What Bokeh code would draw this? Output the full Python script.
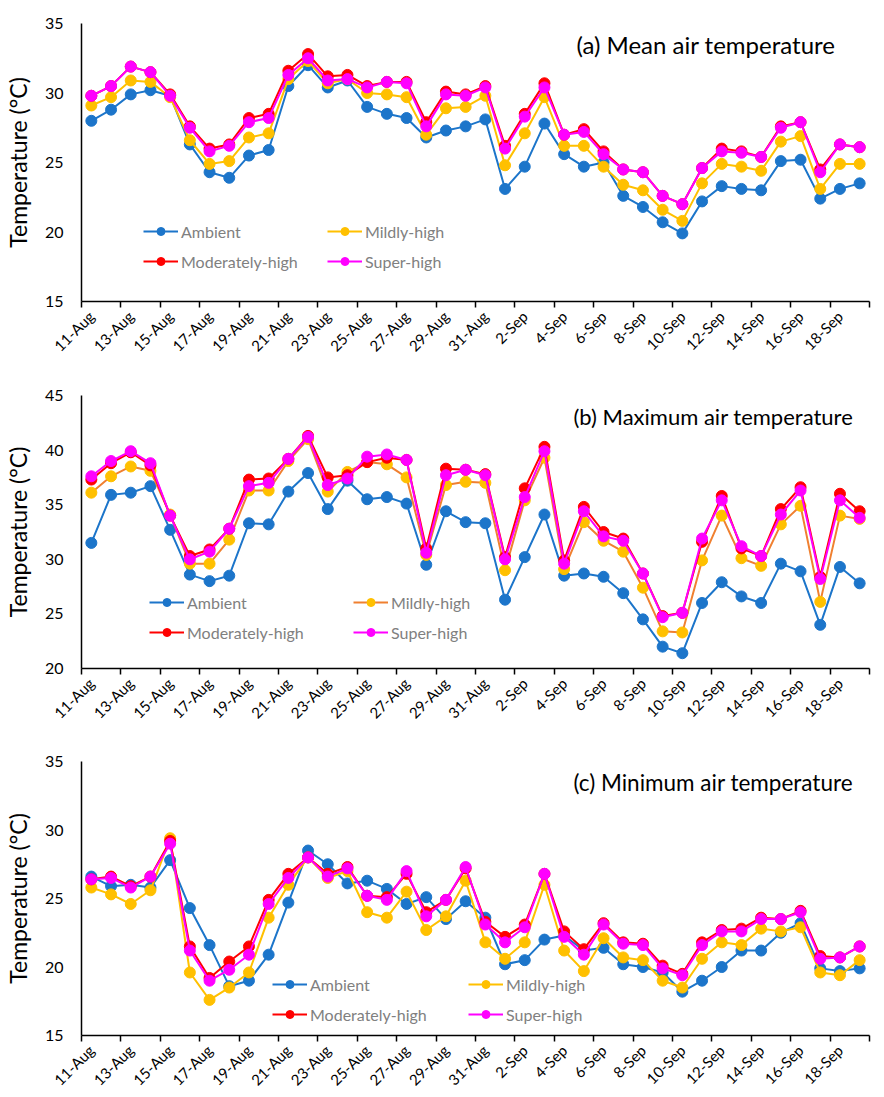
import math
from bokeh.plotting import figure
from bokeh.models import FixedTicker, Legend, LegendItem, Label, Range1d
from bokeh.layouts import column
from bokeh.embed import file_html
from bokeh.resources import INLINE

# ---------------- data ----------------
dates = ["11-Aug", "12-Aug", "13-Aug", "14-Aug", "15-Aug", "16-Aug", "17-Aug", "18-Aug",
         "19-Aug", "20-Aug", "21-Aug", "22-Aug", "23-Aug", "24-Aug", "25-Aug", "26-Aug",
         "27-Aug", "28-Aug", "29-Aug", "30-Aug", "31-Aug", "1-Sep", "2-Sep", "3-Sep",
         "4-Sep", "5-Sep", "6-Sep", "7-Sep", "8-Sep", "9-Sep", "10-Sep", "11-Sep",
         "12-Sep", "13-Sep", "14-Sep", "15-Sep", "16-Sep", "17-Sep", "18-Sep", "19-Sep"]

series_names = ["Ambient", "Mildly-high", "Moderately-high", "Super-high"]

amb_mean = [28.0, 28.8, 29.9, 30.2, 29.8, 26.3, 24.3, 23.9, 25.5, 25.9, 30.5, 32.0, 30.4, 30.9,
            29.0, 28.5, 28.2, 26.8, 27.3, 27.6, 28.1, 23.1, 24.7, 27.8, 25.6, 24.7, 25.0, 22.6,
            21.8, 20.7, 19.9, 22.2, 23.3, 23.1, 23.0, 25.1, 25.2, 22.4, 23.1, 23.5]
mild_mean = [29.1, 29.7, 30.9, 30.8, 29.7, 26.6, 24.9, 25.1, 26.8, 27.1, 31.0, 32.3, 30.7, 31.0,
             30.0, 29.9, 29.7, 27.0, 28.9, 29.0, 29.8, 24.8, 27.1, 29.7, 26.2, 26.2, 24.7, 23.4,
             23.0, 21.6, 20.8, 23.5, 24.9, 24.7, 24.4, 26.5, 26.9, 23.1, 24.9, 24.9]
mod_mean = [29.8, 30.5, 31.9, 31.5, 29.9, 27.6, 26.0, 26.3, 28.2, 28.5, 31.6, 32.8, 31.2, 31.3,
            30.5, 30.8, 30.8, 27.9, 30.1, 29.9, 30.5, 26.2, 28.5, 30.7, 27.0, 27.4, 25.8, 24.5,
            24.3, 22.6, 22.0, 24.6, 26.0, 25.8, 25.4, 27.6, 27.9, 24.5, 26.3, 26.1]
sup_mean = [29.8, 30.5, 31.9, 31.5, 29.8, 27.5, 25.8, 26.2, 27.9, 28.2, 31.3, 32.5, 30.9, 31.0,
            30.4, 30.8, 30.7, 27.6, 29.9, 29.8, 30.4, 26.0, 28.3, 30.4, 27.0, 27.2, 25.6, 24.5,
            24.3, 22.6, 22.0, 24.6, 25.8, 25.7, 25.4, 27.5, 27.9, 24.3, 26.3, 26.1]

amb_max = [31.5, 35.9, 36.1, 36.7, 32.7, 28.6, 28.0, 28.5, 33.3, 33.2, 36.2, 37.9, 34.6, 37.2,
           35.5, 35.7, 35.1, 29.5, 34.4, 33.4, 33.3, 26.3, 30.2, 34.1, 28.5, 28.7, 28.4, 26.9,
           24.5, 22.0, 21.4, 26.0, 27.9, 26.6, 26.0, 29.6, 28.9, 24.0, 29.3, 27.8]
mild_max = [36.1, 37.6, 38.5, 38.1, 34.1, 29.6, 29.6, 31.8, 36.3, 36.3, 39.0, 41.0, 36.2, 38.0,
            38.9, 38.7, 37.5, 30.4, 36.8, 37.1, 37.0, 29.0, 35.4, 39.3, 29.1, 33.4, 31.7, 30.7,
            27.4, 23.4, 23.3, 29.9, 34.0, 30.1, 29.4, 33.2, 34.9, 26.1, 34.0, 33.7]
mod_max = [37.3, 38.8, 39.8, 38.6, 34.0, 30.3, 30.9, 32.8, 37.3, 37.4, 39.2, 41.3, 37.5, 37.7,
           38.9, 39.3, 39.1, 31.0, 38.3, 38.2, 37.8, 30.2, 36.5, 40.3, 29.9, 34.8, 32.5, 31.9,
           28.7, 24.8, 25.1, 31.6, 35.8, 31.0, 30.3, 34.6, 36.6, 28.4, 36.0, 34.4]
sup_max = [37.6, 39.0, 39.9, 38.8, 34.0, 30.0, 30.7, 32.8, 36.7, 37.0, 39.2, 41.2, 36.8, 37.4,
           39.4, 39.6, 39.1, 30.6, 37.7, 38.2, 37.7, 30.0, 35.7, 39.9, 29.6, 34.4, 32.1, 31.7,
           28.7, 24.7, 25.1, 31.9, 35.4, 31.2, 30.3, 34.1, 36.3, 28.2, 35.4, 33.8]

amb_min = [26.6, 25.9, 26.0, 25.8, 27.8, 24.3, 21.6, 18.6, 19.0, 20.9, 24.7, 28.5, 27.5, 26.1,
           26.3, 25.7, 24.6, 25.1, 23.5, 24.8, 23.6, 20.2, 20.5, 22.0, 22.3, 21.2, 21.4, 20.2,
           20.0, 19.6, 18.2, 19.0, 20.0, 21.2, 21.2, 22.5, 23.2, 19.9, 19.7, 19.9]
mild_min = [25.8, 25.3, 24.6, 25.6, 29.4, 19.6, 17.6, 18.5, 19.6, 23.6, 26.0, 28.0, 26.5, 27.0,
            24.0, 23.6, 25.5, 22.7, 23.7, 26.3, 21.8, 20.6, 21.8, 26.0, 21.2, 19.7, 22.1, 20.7,
            20.5, 19.0, 18.5, 20.6, 21.8, 21.6, 22.8, 22.6, 22.9, 19.6, 19.4, 20.5]
mod_min = [26.4, 26.6, 25.9, 26.6, 29.2, 21.5, 19.2, 20.4, 21.5, 24.9, 26.8, 28.0, 26.8, 27.3,
           25.2, 25.1, 26.8, 24.0, 24.9, 27.2, 23.3, 22.2, 23.1, 26.8, 22.6, 21.3, 23.2, 21.8,
           21.7, 20.1, 19.5, 21.8, 22.7, 22.8, 23.6, 23.5, 24.1, 20.8, 20.7, 21.5]
sup_min = [26.4, 26.5, 25.8, 26.6, 29.0, 21.2, 19.0, 19.8, 20.9, 24.6, 26.5, 28.0, 26.6, 27.2,
           25.2, 24.9, 27.0, 23.7, 24.9, 27.3, 23.1, 21.8, 22.9, 26.8, 22.2, 20.9, 23.1, 21.7,
           21.6, 19.9, 19.4, 21.6, 22.6, 22.6, 23.5, 23.5, 24.0, 20.6, 20.7, 21.5]

titles = ["(a) Mean air temperature", "(b) Maximum air temperature", "(c) Minimum air temperature"]
y_ranges = [(15, 35), (20, 45), (15, 35)]
y_ticks = [[15, 20, 25, 30, 35], [20, 25, 30, 35, 40, 45], [15, 20, 25, 30, 35]]

# ---------------- style ----------------
FONT = "Lato"
BLUE = "#1C75CA"
YELLOW = "#FFC000"
ORANGE = "#F08030"
RED = "#FF0000"
MAGENTA = "#FF00FF"

x = list(range(len(dates)))
FRAME_W = 788


def make_panel(title, data, yr, yt, mild_line, left, top, bottom, frame_h,
               leg_x, leg_y, leg_label_w, title_size):
    p = figure(frame_width=FRAME_W, frame_height=frame_h,
               min_border_left=left, min_border_right=2,
               min_border_top=top, min_border_bottom=bottom,
               x_range=Range1d(-0.5, len(dates) - 0.5), y_range=Range1d(*yr),
               output_backend="svg", toolbar_location=None)
    p.outline_line_color = None
    p.xgrid.grid_line_color = None
    p.ygrid.grid_line_color = None
    p.background_fill_color = "white"
    p.border_fill_color = "white"

    # x axis
    p.xaxis.ticker = FixedTicker(ticks=list(range(0, len(dates), 2)),
                                 minor_ticks=[i - 0.5 for i in range(0, len(dates) + 1, 2)])
    p.xaxis.major_label_overrides = {i: dates[i] for i in range(0, len(dates), 2)}
    p.xaxis.major_label_orientation = math.pi / 4
    p.xaxis.major_tick_out = 0
    p.xaxis.major_tick_in = 0
    p.xaxis.minor_tick_out = 6
    p.xaxis.minor_tick_in = 0
    p.xaxis.minor_tick_line_color = "black"
    p.xaxis.minor_tick_line_width = 1.5
    p.xaxis.axis_line_color = "black"
    p.xaxis.axis_line_width = 1.5
    p.xaxis.major_label_text_font = FONT
    p.xaxis.major_label_text_font_size = "15px"
    p.xaxis.major_label_text_color = "black"
    p.xaxis.major_label_standoff = 6

    # y axis
    p.yaxis.ticker = FixedTicker(ticks=yt)
    p.yaxis.major_tick_out = 0
    p.yaxis.major_tick_in = 0
    p.yaxis.minor_tick_line_color = None
    p.yaxis.axis_line_color = "black"
    p.yaxis.axis_line_width = 1.5
    p.yaxis.major_label_text_font = FONT
    p.yaxis.major_label_text_font_size = "16px"
    p.yaxis.major_label_text_color = "black"
    p.yaxis.major_label_standoff = 18
    p.yaxis.axis_label = "Temperature (°C)"
    p.yaxis.axis_label_text_font = FONT
    p.yaxis.axis_label_text_font_size = "23px"
    p.yaxis.axis_label_text_font_style = "normal"
    p.yaxis.axis_label_text_color = "black"
    p.yaxis.axis_label_standoff = 10

    colors = [BLUE, mild_line, RED, MAGENTA]
    fills = [BLUE, YELLOW, RED, MAGENTA]
    items = []
    for name, vals, lc, fc in zip(series_names, data, colors, fills):
        ln = p.line(x, vals, line_color=lc, line_width=2)
        sc = p.scatter(x, vals, size=11, fill_color=fc, line_color=fc, marker="circle")
        items.append(LegendItem(label=name, renderers=[ln, sc]))

    leg = Legend(items=items, orientation="horizontal", ncols=2,
                 location=(leg_x, leg_y), padding=0, margin=0,
                 border_line_color=None, background_fill_alpha=0,
                 label_text_color="#808080", label_text_font=FONT,
                 label_text_font_size="16px", glyph_width=35, glyph_height=20,
                 label_height=20, label_width=leg_label_w, label_standoff=3, spacing=10)
    p.add_layout(leg)

    p.add_layout(Label(x=578 - 8 - left, y=frame_h - 21, x_units="screen", y_units="screen",
                       text=title, text_font=FONT, text_font_size=title_size,
                       text_color="black", text_align="left", text_baseline="middle"))
    return p


p1 = make_panel(titles[0], [amb_mean, mild_mean, mod_mean, sup_mean], y_ranges[0], y_ticks[0],
                YELLOW, 75, 23, 75, 278, 62, 30, 136, "24px")
p2 = make_panel(titles[1], [amb_max, mild_max, mod_max, sup_max], y_ranges[1], y_ticks[1],
                ORANGE, 78, 19, 78, 273, 68, 26, 156, "22px")
p3 = make_panel(titles[2], [amb_min, mild_min, mod_min, sup_min], y_ranges[2], y_ticks[2],
                YELLOW, 78, 15, 48, 274, 191, 11, 148, "22.5px")

layout = column(p1, p2, p3, spacing=0)

open("out.html", "w").write(file_html(layout, INLINE))
